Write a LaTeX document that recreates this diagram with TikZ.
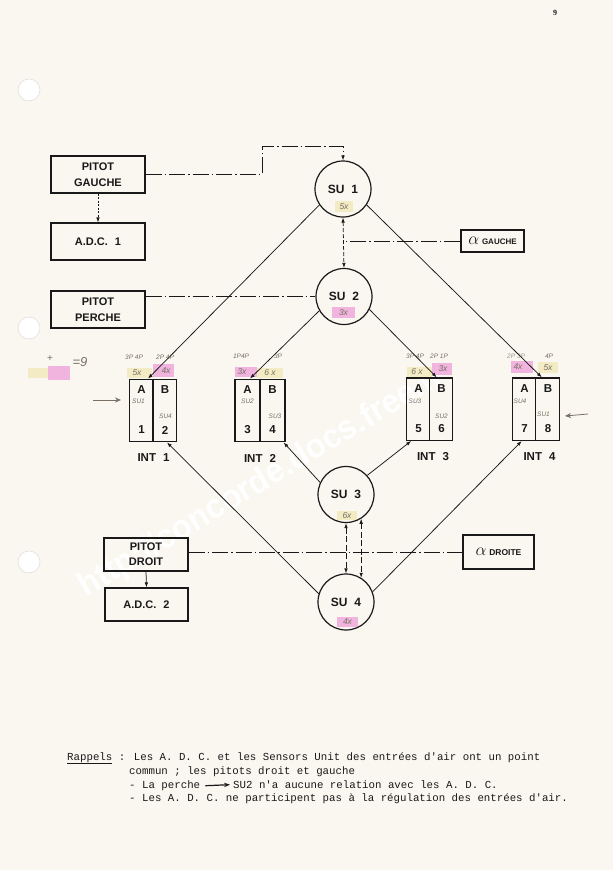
\documentclass[tikz,border=0pt]{standalone}
\usepackage{fontspec}
\setmainfont{Liberation Sans}
\newfontfamily\monof{Liberation Mono}
\newfontfamily\seriff{Liberation Serif}
\usetikzlibrary{arrows.meta,calc}
\definecolor{paper}{RGB}{249,247,240}
\definecolor{ink}{RGB}{25,25,25}
\definecolor{hly}{RGB}{243,235,195}
\definecolor{hlp}{RGB}{241,180,222}
\definecolor{pencil}{RGB}{120,112,100}
\definecolor{holeedge}{RGB}{226,224,218}
\tikzset{
  bx/.style={draw=ink, line width=1.1pt, inner sep=0pt, align=center, font=\bfseries\fontsize{11}{15.5}\selectfont, text=ink},
  su/.style={circle, draw=ink, line width=1.2pt, minimum size=56pt, inner sep=0pt, font=\bfseries\fontsize{12}{12}\selectfont, text=ink},
  intbx/.style={draw=ink, line width=1.1pt, inner sep=0pt},
  ab/.style={font=\bfseries\fontsize{11.5}{12}\selectfont, text=ink, inner sep=0pt},
  intlab/.style={font=\bfseries\fontsize{11.5}{12}\selectfont, text=ink, inner sep=0pt},
  hand/.style={font=\itshape\fontsize{6.5}{7}\selectfont, text=pencil, inner sep=0pt},
  handx/.style={font=\itshape\fontsize{8.5}{9}\selectfont, text=pencil, inner sep=0pt},
  conn/.style={draw=ink, line width=0.75pt},
  tip/.style={-{Latex[length=5pt,width=3.6pt]}},
  tips/.style={{Latex[length=5pt,width=3.6pt]}-{Latex[length=5pt,width=3.6pt]}},
  dashdot/.style={dash pattern=on 16pt off 3pt on 1.5pt off 3pt},
  shortdash/.style={dash pattern=on 4pt off 2pt},
  longdash/.style={dash pattern=on 6pt off 2.5pt},
  mono/.style={font=\monof\fontsize{10.75}{12}\selectfont, text=ink, inner sep=0pt, anchor=base west},
}
\begin{document}
\begin{tikzpicture}[x=1pt,y=-1pt]
\fill[paper] (0,0) rectangle (613,870);
\useasboundingbox (0,0) rectangle (613,870);
% punch holes
\foreach \yy in {90,328,562} \filldraw[fill=white, draw=holeedge, line width=0.6pt] (29,\yy) circle (11);
% watermark
\node[rotate=31, font=\bfseries\fontsize{34}{34}\selectfont, xscale=0.95, text=white] (wm) at (262,482) {http://concorde.docs.free.fr};
% page number
\node[font=\seriff\bfseries\fontsize{8}{8}\selectfont, text=ink] (pnum) at (555,13) {9};

% highlights
\fill[hly] (335,201) rectangle (353,212);
\fill[hlp] (332,307) rectangle (355,318);
\fill[hly] (337,511) rectangle (357,520);
\fill[hlp] (337,617) rectangle (358,627);
\fill[hly] (127,368) rectangle (152,378);
\fill[hlp] (153,364) rectangle (174,377);
\fill[hlp] (235,367) rectangle (257,377);
\fill[hly] (257,368) rectangle (283,378);
\fill[hly] (407,367) rectangle (432,377);
\fill[hlp] (432,363) rectangle (452,375);
\fill[hlp] (511,361) rectangle (533,373);
\fill[hly] (538,362) rectangle (558,373);
\fill[hly] (28,368) rectangle (48,378);
\fill[hlp] (48,366) rectangle (70,380);

% boxes
\node[bx, minimum width=94pt, minimum height=37pt] (pg) at (98,174.5) {PITOT\\GAUCHE};
\node[bx, minimum width=94pt, minimum height=37pt] (adc1) at (98,241.5) {A.D.C.\hspace{7pt}1};
\node[bx, minimum width=94pt, minimum height=37pt] (pp) at (98,309.5) {PITOT\\PERCHE};
\node[bx, minimum width=84pt, minimum height=33pt, font=\bfseries\fontsize{11}{15}\selectfont] (pd) at (146,554.5) {PITOT\\DROIT};
\node[bx, minimum width=83pt, minimum height=33pt] (adc2) at (146.5,604.5) {A.D.C.\hspace{7pt}2};
\node[bx, minimum width=63pt, minimum height=22pt] (ag) at (492.5,241) {\fontsize{17}{17}\selectfont$\alpha$\,{\fontsize{8}{8}\selectfont\bfseries GAUCHE}};
\node[bx, minimum width=71pt, minimum height=34pt] (ad) at (498.5,552) {\fontsize{17}{17}\selectfont$\alpha$\,{\fontsize{8.5}{8.5}\selectfont\bfseries DROITE}};

% SU circles
\node[su] (su1) at (343,189) {SU\hspace{7pt}1};
\node[su] (su2) at (344,296.5) {SU\hspace{7pt}2};
\node[su] (su3) at (346,494.5) {SU\hspace{7pt}3};
\node[su] (su4) at (346,602) {SU\hspace{7pt}4};
\node[handx] (su1n) at (344,207) {5x};
\node[handx] (su2n) at (343.5,313) {3x};
\node[handx] (su3n) at (347,516) {6x};
\node[handx] (su4n) at (347.5,622) {4x};

% INT boxes
\node[intbx, minimum width=47.4pt, minimum height=62.7pt] (int1) at (153,410.5) {};
\node[intbx, minimum width=50pt, minimum height=62.7pt] (int2) at (260,410.5) {};
\node[intbx, minimum width=46pt, minimum height=62.5pt] (int3) at (429.7,409.2) {};
\node[intbx, minimum width=47pt, minimum height=62.5pt] (int4) at (535.8,409.2) {};
\foreach \n in {int1,int2,int3,int4} \draw[ink, line width=1.1pt] (\n.north) -- (\n.south);

% INT contents
\node[ab] (a1) at (141.5,390) {A};  \node[ab] (b1) at (165,390) {B};
\node[ab] (n1) at (141.5,430) {1};  \node[ab] (n2) at (165,430) {2};
\node[ab] (a2) at (247.5,390) {A};  \node[ab] (b2) at (272.5,390) {B};
\node[ab] (n3) at (247.5,430) {3};  \node[ab] (n4) at (272.5,430) {4};
\node[ab] (a3) at (418.5,389) {A};  \node[ab] (b3) at (441.5,389) {B};
\node[ab] (n5) at (418.5,429) {5};  \node[ab] (n6) at (441.5,429) {6};
\node[ab] (a4) at (524.5,389) {A};  \node[ab] (b4) at (548,389) {B};
\node[ab] (n7) at (524.5,429) {7};  \node[ab] (n8) at (548,429) {8};

\node[hand] (h1a) at (138.5,401) {SU1};
\node[hand] (h1b) at (165.5,416) {SU4};
\node[hand] (h2a) at (247.5,401.5) {SU2};
\node[hand] (h2b) at (275,416.5) {SU3};
\node[hand] (h3a) at (415,401.5) {SU3};
\node[hand] (h3b) at (441.5,416) {SU2};
\node[hand] (h4a) at (520,401.5) {SU4};
\node[hand] (h4b) at (543.5,414) {SU1};

\node[intlab] (l1) at (153.5,458) {INT\hspace{7pt}1};
\node[intlab] (l2) at (260,458) {INT\hspace{7pt}2};
\node[intlab] (l3) at (433,457) {INT\hspace{7pt}3};
\node[intlab] (l4) at (539.5,457) {INT\hspace{7pt}4};

% annotations above INT boxes
\node[hand] (t1a) at (134,357) {3P 4P};
\node[hand] (t1b) at (165,357) {2P 4P};
\node[handx] (x1a) at (137,373) {5x};
\node[handx] (x1b) at (166,371) {4x};
\node[hand] (t2a) at (241,356) {1P4P};
\node[hand] (t2b) at (278,356) {3P};
\node[handx] (x2a) at (242,372) {3x};
\node[handx] (x2b) at (270,373) {6 x};
\node[hand] (t3a) at (415,356.5) {3P 4P};
\node[hand] (t3b) at (439,356.5) {2P 1P};
\node[handx] (x3a) at (417,372) {6 x};
\node[handx] (x3b) at (443,369) {3x};
\node[hand, text=pencil!70!paper] (t4a) at (516,356) {2P 3P};
\node[hand] (t4b) at (549,356) {4P};
\node[handx] (x4a) at (518,367) {4x};
\node[handx] (x4b) at (548,368) {5x};

% left annotation
\node[handx, font=\fontsize{10}{10}\selectfont] (plus) at (50,359) {+};
\node[handx, font=\itshape\fontsize{13}{13}\selectfont] (eq9) at (80,362) {=9};
\coordinate (la0) at (93,400);
\coordinate (la1) at (121,400);
\draw[pencil, line width=0.8pt, -{Stealth[length=6pt,width=5pt]}] (la0) -- (la1);
\coordinate (ra0) at (588,414);
\coordinate (ra1) at (565,416);
\draw[pencil, line width=0.8pt, -{Stealth[length=6pt,width=5pt]}] (ra0) -- (ra1);

% connectors
\coordinate (k1) at (262,146);
\draw[conn,dashdot,tip] (pg.east) -| (k1) -| (su1.north);
\draw[conn,dash pattern=on 2pt off 1.5pt,tip] (pg.south) -- (adc1.north);
\draw[conn,dashdot] (ag.west) -- (ag.west -| su1.south);
\draw[conn,shortdash,tips] (su1.south) -- (su2.north);
\draw[conn,dashdot] (pp.east |- su2.west) -- (su2.west);
\draw[conn,dashdot] (pd.east |- ad.west) -- (ad.west);
\draw[conn,longdash,tips] (su3.south) -- (su4.north);
\draw[conn,longdash,tips] (su3.-58) -- (su4.58);
\draw[conn,tip] (pd.south) -- (adc2.north);

\draw[conn,tip] (su1.214) -- ([xshift=-5pt]int1.north);
\draw[conn,tip] (su1.326) -- ([xshift=6pt]int4.north);
\draw[conn,tip] (su2.210) -- ([xshift=-10pt]int2.north);
\draw[conn,tip] (su2.333) -- ([xshift=7pt]int3.north);
\draw[conn,tip] (su3.155) -- ([xshift=-2pt]int2.south east);
\draw[conn,tip] (su3.42) -- ([xshift=5pt]int3.south west);
\draw[conn,tip] (su4.163) -- ([xshift=14pt]int1.south);
\draw[conn,tip] (su4.21) -- ([xshift=10pt]int4.south west);

% footer
\node[mono] (r1) at (67,760) {\underline{Rappels} : Les A. D. C. et les Sensors Unit des entrées d'air ont un point};
\node[mono] (r2) at (129,774) {commun ; les pitots droit et gauche};
\node[mono] (r3a) at (129,788) {- La perche};
\node[mono] (r3b) at (233,788) {SU2 n'a aucune relation avec les A. D. C.};
\node[mono] (r4) at (129,801) {- Les A. D. C. ne participent pas à la régulation des entrées d'air.};
\draw[ink, line width=1.2pt, -{Stealth[length=6pt,width=4.5pt]}] ([xshift=5pt,yshift=-0.5pt]r3a.east) -- ([xshift=-3pt,yshift=-0.5pt]r3b.west);
\end{tikzpicture}
\end{document}
